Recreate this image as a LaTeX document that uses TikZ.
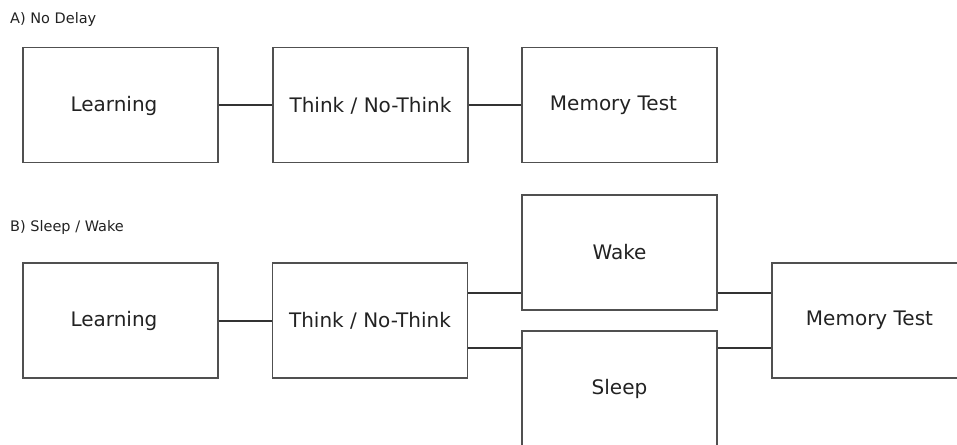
\documentclass[tikz,border=0pt]{standalone}
\usepackage{fontspec}
\setmainfont{DejaVu Sans}
\usetikzlibrary{calc}
\definecolor{boxline}{HTML}{505050}
\definecolor{txt}{HTML}{222222}
\definecolor{conncol}{HTML}{333333}
\begin{document}
\begin{tikzpicture}[x=1pt,y=-1pt,
  stagebox/.style={draw=boxline,line width=1.3pt,minimum width=195pt,minimum height=115pt,inner sep=0pt,text=txt,font=\fontsize{20}{24}\selectfont},
  stagetext/.style={text=txt,font=\fontsize{20}{24}\selectfont,inner sep=0pt},
  conn/.style={draw=conncol,line width=2pt},
  paneltitle/.style={anchor=base west,inner sep=0pt,text=txt,font=\fontsize{14.5}{17}\selectfont}]
\useasboundingbox (0,0) rectangle (957,444);
% Panel A
\node[paneltitle] (ta) at (10,24) {A) No Delay};
\node[stagebox] (learnA) at (120.5,105) {};
\node[stagetext] (learnAt) at (114,105.5) {Learning};
\node[stagebox] (thinkA) at (370.5,105) {};
\node[stagetext] (thinkAt) at (370.5,105.5) {Think / No-Think};
\node[stagebox] (memA) at (619.5,105) {};
\node[stagetext] (memAt) at (613.5,105.5) {Memory Test};
\draw[conn] (learnA.east) -- (thinkA.west);
\draw[conn] (thinkA.east) -- (memA.west);
% Panel B
\node[paneltitle] (tb) at (10,231) {B) Sleep / Wake};
\node[stagebox] (learnB) at (120.5,320.5) {};
\node[stagetext] (learnBt) at (114,320.5) {Learning};
\node[stagebox] (thinkB) at (370,320.5) {Think / No-Think};
\node[stagebox] (wake) at (619.5,252.5) {Wake};
\node[stagebox] (sleep) at (619.5,388.5) {Sleep};
\node[stagebox] (memB) at (869.5,320.5) {Memory Test};
\coordinate (wl) at ($(wake.south west)+(0,-18)$);
\coordinate (wr) at ($(wake.south east)+(0,-18)$);
\coordinate (sl) at ($(sleep.north west)+(0,18)$);
\coordinate (sr) at ($(sleep.north east)+(0,18)$);
\draw[conn] (learnB.east) -- (thinkB.west);
\draw[conn] (wl -| thinkB.east) -- (wl);
\draw[conn] (sl -| thinkB.east) -- (sl);
\draw[conn] (wr) -- (wr -| memB.west);
\draw[conn] (sr) -- (sr -| memB.west);
\end{tikzpicture}
\end{document}
